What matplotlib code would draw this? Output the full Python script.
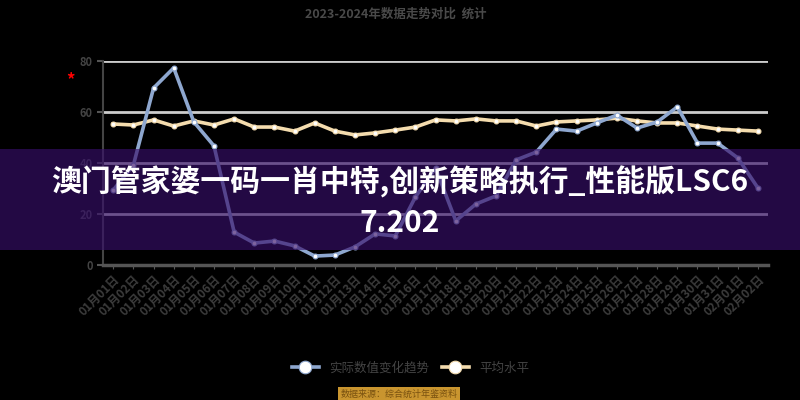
import matplotlib.pyplot as plt
from matplotlib.patches import Rectangle

plt.rcParams['font.family'] = ['Noto Sans CJK SC', 'DejaVu Sans']

# 33 periods along the x axis
dates = ['01月%02d日' % d for d in range(1, 32)] + ['02月01日', '02月02日']

actual = [29.4, 39.2, 69.4, 77.3, 56.1, 46.7, 12.9, 8.6, 9.4, 7.5, 3.5,
          3.9, 7.1, 12.2, 11.4, 26.7, 38.0, 17.3, 23.9, 27.1, 41.2, 44.3,
          53.3, 52.5, 55.7, 58.8, 53.7, 56.1, 62.0, 47.8, 47.8, 42.0, 30.2]

average = [55.3, 54.9, 56.9, 54.5, 56.5, 54.9, 57.3, 54.1, 54.1, 52.5, 55.7,
           52.5, 51.0, 51.8, 52.9, 54.1, 56.9, 56.5, 57.3, 56.5, 56.5, 54.5,
           56.1, 56.5, 56.9, 57.6, 56.5, 55.7, 55.7, 54.5, 53.3, 52.9, 52.5]

yticks = [0, 20, 40, 60, 80]

blue = '#8ea7cf'
cream = '#f4dcae'
grey_txt = '#444444'

fig = plt.figure(figsize=(8, 4), dpi=100, facecolor='black')
ax = fig.add_axes([0.129, 0.3375, 0.831, 0.51])
ax.set_facecolor('black')

x = list(range(len(dates)))
ax.plot(x, actual, color=blue, lw=2.6, marker='o', ms=3.5,
        mfc='white', mec=blue, mew=0.8, label='实际数值变化趋势', zorder=3)
ax.plot(x, average, color=cream, lw=2.6, marker='o', ms=3.5,
        mfc='white', mec=cream, mew=0.8, label='平均水平', zorder=2)

ax.set_xlim(-0.5, len(dates) - 0.5)
ax.set_ylim(0, 80)
ax.set_yticks(yticks)
ax.set_yticklabels([str(v) for v in yticks], color=grey_txt, fontsize=8,
                   fontweight='bold')
ax.yaxis.grid(True, color='#cccccc', lw=2)
ax.set_axisbelow(True)
ax.set_xticks(x)
ax.set_xticklabels(dates, rotation=45, ha='right', rotation_mode='anchor',
                   color='#3c3c3c', fontsize=8.5, fontweight='bold')
ax.tick_params(axis='x', length=3, color='#555555', pad=3)
ax.tick_params(axis='y', length=4, color='#555555', width=1.5)

for side in ['top', 'right']:
    ax.spines[side].set_visible(False)
ax.spines['left'].set_color('#444444')
ax.spines['left'].set_linewidth(1.5)
ax.spines['bottom'].set_color('#555555')
ax.spines['bottom'].set_linewidth(2.5)

fig.text(0.495, 0.965, '2023-2024年数据走势对比  统计', ha='center', va='center',
         color='#4a4a4a', fontsize=9, fontweight='bold')
fig.text(0.088, 0.80, '*', color='red', fontsize=12, fontweight='bold',
         ha='center', va='center')

fig.legend(loc='center', bbox_to_anchor=(0.513, 0.08), ncol=2, frameon=False,
           fontsize=9, labelcolor=grey_txt, handlelength=2.2, columnspacing=1.0,
           markerscale=2.6)

fig.text(0.499, 0.015, '数据来源：综合统计年鉴资料', ha='center', va='center',
         color='#7a5210', fontsize=6.5,
         bbox=dict(boxstyle='square,pad=0.25', fc='#c9952f', ec='none'))

# overlay banner
fig.patches.append(Rectangle((0, 0.375), 1, 0.2525, transform=fig.transFigure,
                             facecolor=(0.216, 0.06, 0.416), alpha=0.65,
                             edgecolor='none', zorder=10))
fig.text(0.5, 0.495, '澳门管家婆一码一肖中特,创新策略执行_性能版LSC6\n7.202',
         ha='center', va='center', multialignment='center', color='white',
         fontsize=21.5, fontweight='black', linespacing=1.4, zorder=11)

fig.savefig('out.png', dpi=100, facecolor='black')
